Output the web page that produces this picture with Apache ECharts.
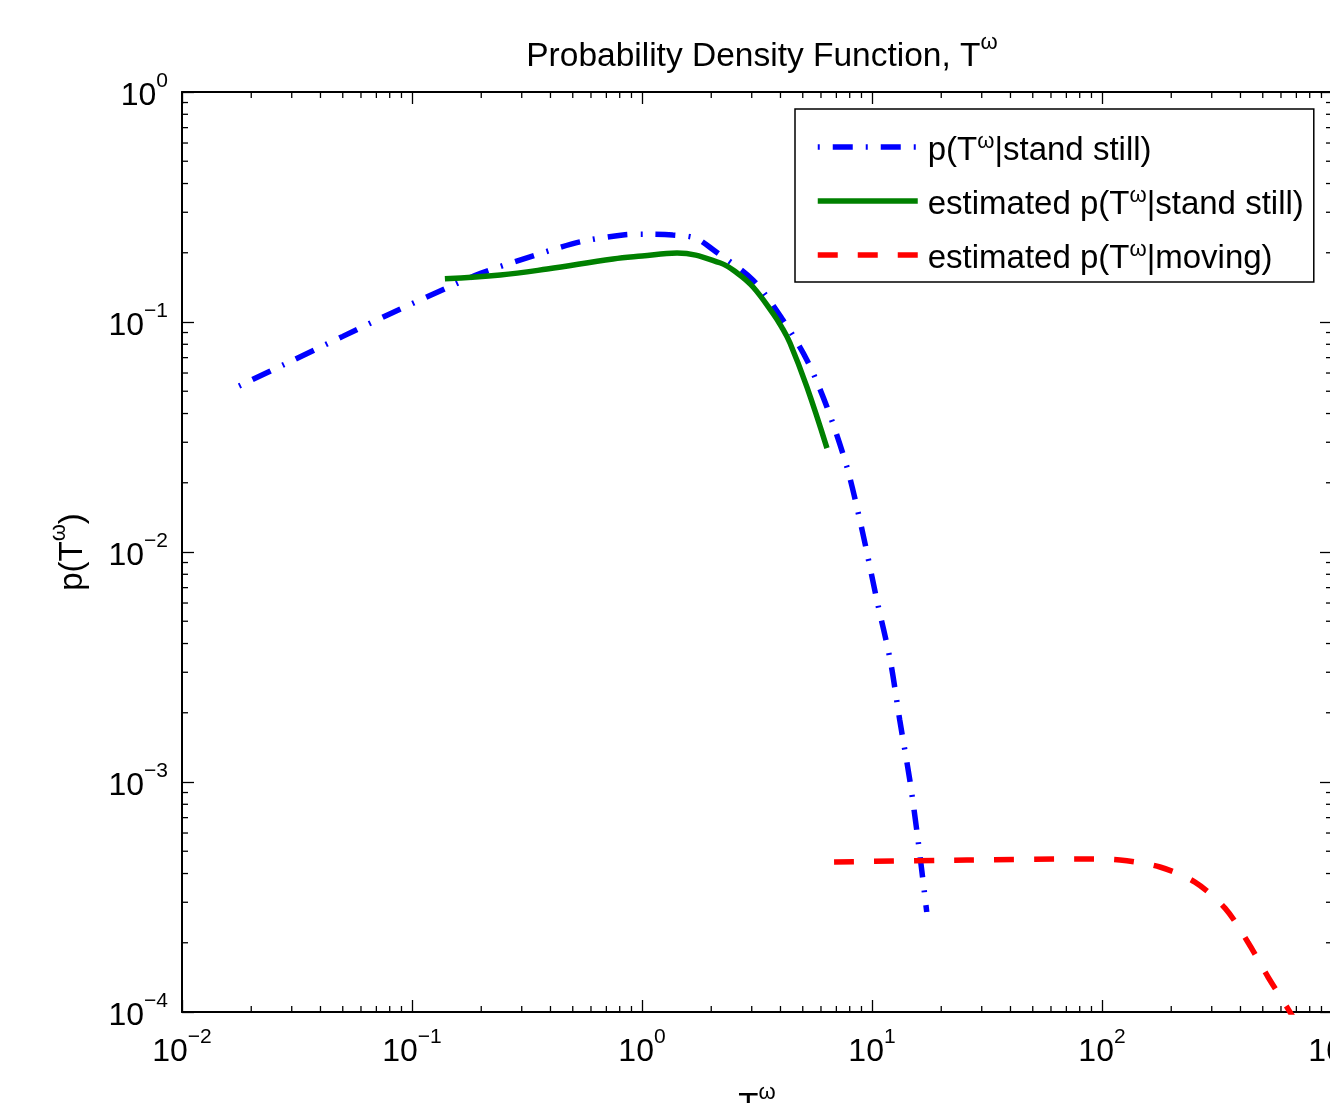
<!DOCTYPE html>
<html><head><meta charset="utf-8">
<script src="https://cdn.jsdelivr.net/npm/echarts@6/dist/echarts.min.js"></script>
<style>html,body{margin:0;padding:0;background:#fff}#c{width:1330px;height:1103px}</style>
</head><body><div id="c"></div>
<script>
// ---- data (log-log) ----
const standStillX = [0.0177, 0.03, 0.05, 0.08, 0.142, 0.2, 0.326, 0.537, 0.826, 1.03, 1.36, 1.7, 2.04, 3.04, 4.10, 5.21, 6.37, 7.78, 9.05, 10.5, 12.0, 13.2, 14.6, 15.85, 17.3];
const standStillY = [0.0527, 0.0678, 0.0866, 0.1084, 0.1406, 0.163, 0.192, 0.223, 0.239, 0.241, 0.239, 0.232, 0.206, 0.152, 0.102, 0.0684, 0.0427, 0.0234, 0.0125, 0.00618, 0.00339, 0.00186, 0.00102, 0.00056, 0.000272];
const estStillX = [0.139, 0.242, 0.387, 0.748, 1.0, 1.42, 2.18, 2.6, 3.04, 3.71, 4.05, 4.40, 5.21, 6.37];
const estStillY = [0.154, 0.160, 0.170, 0.188, 0.1936, 0.1995, 0.181, 0.163, 0.142, 0.109, 0.095, 0.081, 0.0522, 0.0283];
const movingX = [6.84, 25.9, 82.7, 119.7, 178.6, 253.6, 342.6, 431, 527, 637, 711];
const movingY = [0.000449, 0.000458, 0.000463, 0.000458, 0.000427, 0.000367, 0.000283, 0.000201, 0.000142, 0.000105, 0.0000877];
const seriesNames = ['p(Tω|stand still)', 'estimated p(Tω|stand still)', 'estimated p(Tω|moving)'];
const legendLabels = ['p(T{sup|ω}|stand still)', 'estimated p(T{sup|ω}|stand still)', 'estimated p(T{sup|ω}|moving)'];
const titleText = 'Probability Density Function, T{sup|ω}';
const xName = 'T{sup|ω}';
const yName = 'p(T{sup|ω})';
const xMin = 0.01, xMax = 1000, yMin = 0.0001, yMax = 1;
const minorMult = [2, 3, 4, 5, 6, 7, 8, 9];

const FF = '"Liberation Sans", Arial, Helvetica, sans-serif';
const zip = (a, b) => a.map((v, i) => [v, b[i]]);
const xMinor = []; for (let e = -2; e < 3; e++) for (const m of minorMult) xMinor.push(m * Math.pow(10, e));
const yMinor = []; for (let e = -4; e < 0; e++) for (const m of minorMult) yMinor.push(m * Math.pow(10, e));

const supStyle = (fs) => ({ fontFamily: FF, fontSize: fs, color: '#000', verticalAlign: 'top', lineHeight: 18 });
const tickFmt = v => { const e = Math.round(Math.log10(v)); return '10{sup|' + (e < 0 ? '\u2212' + (-e) : e) + '}'; };
const labelStyle = { fontFamily: FF, fontSize: 32, color: '#000', lineHeight: 50, rich: { sup: supStyle(21) } };
const axisCommon = {
  type: 'log', logBase: 10,
  axisLine: { show: true, lineStyle: { color: '#000', width: 2 } },
  axisTick: { show: true, inside: true, length: 12, lineStyle: { color: '#000', width: 1.3 } },
  splitLine: { show: false }
};

const chart = echarts.init(document.getElementById('c'), null, { renderer: 'canvas' });
chart.setOption({
  animation: false,
  backgroundColor: '#fff',
  title: {
    text: titleText, left: 757, top: 27, textAlign: 'center',
    textStyle: { fontFamily: FF, fontSize: 33.5, fontWeight: 'normal', color: '#000', lineHeight: 50, rich: { sup: supStyle(22) } }
  },
  grid: { left: 182, top: 92, right: -2, bottom: 91, containLabel: false, outerBoundsMode: 'none' },
  legend: {
    data: seriesNames, orient: 'vertical', left: 795, top: 109,
    padding: [14, 10, 3, 20], itemWidth: 100, itemHeight: 14, itemGap: 6,
    borderColor: '#000', borderWidth: 1.5, backgroundColor: '#fff', selectedMode: false,
    itemStyle: { opacity: 0 },
    lineStyle: { width: 5.5, opacity: 1 },
    formatter: n => legendLabels[seriesNames.indexOf(n)],
    textStyle: { fontFamily: FF, fontSize: 33, color: '#000', lineHeight: 40, padding: [8, 0, 0, 5], rich: { sup: supStyle(22) } }
  },
  xAxis: [
    Object.assign({}, axisCommon, { position: 'bottom', min: xMin, max: xMax,
      axisLabel: Object.assign({ formatter: tickFmt, margin: 15 }, labelStyle),
      name: xName, nameLocation: 'middle', nameGap: 66,
      nameTextStyle: { fontFamily: FF, fontSize: 33, color: '#000', lineHeight: 50, rich: { sup: supStyle(22) } } }),
    Object.assign({}, axisCommon, { position: 'top', min: xMin, max: xMax, axisLabel: { show: false } })
  ],
  yAxis: [
    Object.assign({}, axisCommon, { position: 'left', min: yMin, max: yMax,
      axisLabel: Object.assign({ formatter: tickFmt, margin: 14, padding: [8, 0, 0, 0] }, labelStyle),
      name: yName, nameLocation: 'middle', nameGap: 72,
      nameTextStyle: { fontFamily: FF, fontSize: 33, color: '#000', lineHeight: 50, rich: { sup: supStyle(22) } } }),
    Object.assign({}, axisCommon, { position: 'right', min: yMin, max: yMax, axisLabel: { show: false } })
  ],
  series: [
    { name: seriesNames[0], type: 'line', data: zip(standStillX, standStillY), symbol: 'none', showSymbol: false, smooth: 0.3,
      lineStyle: { color: '#0000ff', width: 5.5, type: [2, 13, 20, 13], cap: 'butt' }, itemStyle: { color: '#0000ff' }, z: 3 },
    { name: seriesNames[1], type: 'line', data: zip(estStillX, estStillY), symbol: 'none', showSymbol: false, smooth: 0.4,
      lineStyle: { color: '#008000', width: 5.5 }, itemStyle: { color: '#008000' }, z: 4 },
    { name: seriesNames[2], type: 'line', data: zip(movingX, movingY), symbol: 'none', showSymbol: false, smooth: 0.3,
      lineStyle: { color: '#ff0000', width: 5.5, type: [20, 20], cap: 'butt' }, itemStyle: { color: '#ff0000' }, z: 3 },
    { type: 'custom', silent: true, data: xMinor.map(v => [v, yMin]), z: 2,
      renderItem: (p, api) => {
        const v = api.value(0);
        const b = api.coord([v, yMin]), t = api.coord([v, yMax]);
        return { type: 'group', children: [
          { type: 'line', shape: { x1: b[0], y1: b[1], x2: b[0], y2: b[1] - 6 }, style: { stroke: '#000', lineWidth: 1.3 } },
          { type: 'line', shape: { x1: t[0], y1: t[1], x2: t[0], y2: t[1] + 6 }, style: { stroke: '#000', lineWidth: 1.3 } }
        ] };
      } },
    { type: 'custom', silent: true, data: yMinor.map(v => [xMin, v]), z: 2,
      renderItem: (p, api) => {
        const v = api.value(1);
        const l = api.coord([xMin, v]), r = api.coord([xMax, v]);
        return { type: 'group', children: [
          { type: 'line', shape: { x1: l[0], y1: l[1], x2: l[0] + 6, y2: l[1] }, style: { stroke: '#000', lineWidth: 1.3 } },
          { type: 'line', shape: { x1: r[0], y1: r[1], x2: r[0] - 6, y2: r[1] }, style: { stroke: '#000', lineWidth: 1.3 } }
        ] };
      } }
  ]
});
</script></body></html>
